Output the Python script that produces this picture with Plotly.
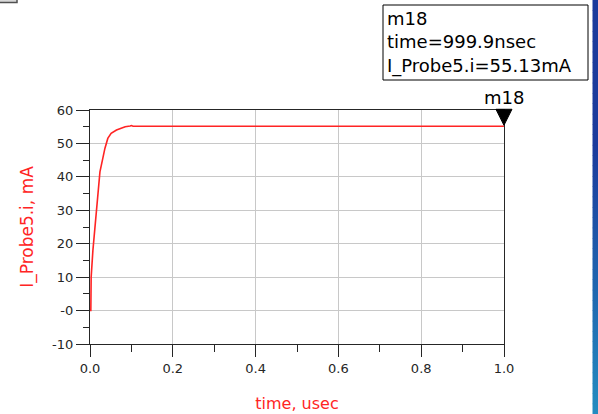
import plotly.graph_objects as go

# ---- data (time in usec, current in mA) ----
time_us = [0.0, 0.0020, 0.0024, 0.0028, 0.0070, 0.0120, 0.0170, 0.0200, 0.0240,
           0.0300, 0.0360, 0.0430, 0.0510, 0.0640, 0.0850, 0.0970, 0.1000,
           0.1040, 0.2000, 0.4000, 0.6000, 0.8000, 0.9999]
current_mA = [0.0, 0.0, 5.0, 10.0, 18.0, 25.0, 30.0, 35.0, 41.5,
              45.0, 48.5, 51.5, 53.0, 54.0, 55.0, 55.2, 55.35,
              55.15, 55.13, 55.13, 55.13, 55.13, 55.13]

x_ticks = [0.0, 0.2, 0.4, 0.6, 0.8, 1.0]
x_ticktext = ["0.0", "0.2", "0.4", "0.6", "0.8", "1.0"]
y_ticks = [-10, 0, 10, 20, 30, 40, 50, 60]
y_ticktext = ["-10", "-0", "10", "20", "30", "40", "50", "60"]

marker_name = "m18"
marker_t = 0.9999
marker_v = 55.13
marker_lines = ["m18", "time=999.9nsec", "I_Probe5.i=55.13mA"]

x_range = [0.0, 1.0]
y_range = [-10, 60]

# ---- layout geometry ----
W, H = 598, 414
L, R, T, B = 90, 94, 110, 70
PW, PH = W - L - R, H - T - B


def px(xpix):
    return (xpix - L) / PW


def py(ypix):
    return (H - B - ypix) / PH


def dx(t):
    return (t - x_range[0]) / (x_range[1] - x_range[0])


def dy(v):
    return (v - y_range[0]) / (y_range[1] - y_range[0])


FONT = "DejaVu Sans, Verdana, sans-serif"
RED = "#ff2424"
INK = "#262626"

fig = go.Figure()
fig.add_trace(go.Scatter(x=time_us, y=current_mA, mode="lines",
                         line=dict(color=RED, width=1.6), showlegend=False,
                         hoverinfo="x+y"))

shapes = []
# blue gradient bar at right edge
n = 40
c_top = (27, 58, 156)
c_bot = (36, 140, 192)
for i in range(n):
    f = i / (n - 1)
    g = max(0.0, (f - 0.35) / 0.65)
    c = tuple(int(c_top[k] + (c_bot[k] - c_top[k]) * g) for k in range(3))
    shapes.append(dict(type="rect", xref="paper", yref="paper",
                       x0=px(592.5), x1=px(598),
                       y0=py(H * (i + 1) / n + 0.5), y1=py(H * i / n),
                       line=dict(width=0), fillcolor="rgb(%d,%d,%d)" % c,
                       layer="above"))
# marker triangle (tip at the data point)
shapes.append(dict(type="path", xref="paper", yref="paper",
                   xsizemode="pixel", ysizemode="pixel",
                   xanchor=dx(marker_t), yanchor=dy(marker_v),
                   path="M-8,17 L8,17 L0,1 Z",
                   fillcolor="black", line=dict(color="black", width=1)))
# marker readout box
shapes.append(dict(type="rect", xref="paper", yref="paper",
                   x0=px(383), x1=px(588), y0=py(80), y1=py(5),
                   line=dict(color="black", width=1), fillcolor="rgba(0,0,0,0)"))
# small box top-left
shapes.append(dict(type="rect", xref="paper", yref="paper",
                   x0=px(-2), x1=px(17), y0=py(2.5), y1=py(-6),
                   line=dict(color="#505050", width=1.5), fillcolor="#d8d8d8"))

annotations = [
    dict(xref="paper", yref="paper", x=px(385), y=py(6), xanchor="left",
         yanchor="top", align="left", showarrow=False,
         text="<br>".join(marker_lines),
         font=dict(family=FONT, size=18, color="black")),
    dict(xref="paper", yref="paper", x=dx(marker_t), y=py(97),
         xanchor="center", yanchor="middle", showarrow=False,
         text=marker_name, font=dict(family=FONT, size=18, color="black")),
]

fig.update_layout(
    width=W, height=H,
    margin=dict(l=L, r=R, t=T, b=B, autoexpand=False),
    paper_bgcolor="white", plot_bgcolor="white",
    font=dict(family=FONT, size=13, color=INK),
    shapes=shapes, annotations=annotations,
    xaxis=dict(range=x_range, tickvals=x_ticks, ticktext=x_ticktext,
               showgrid=True, gridcolor="#c8c8c8", gridwidth=1,
               showline=True, linecolor=INK, linewidth=1.2, mirror=True,
               ticks="outside", ticklen=12, tickcolor=INK, tickwidth=1.2,
               minor=dict(dtick=0.1, ticks="outside", ticklen=7,
                          tickcolor=INK, tickwidth=1.2, showgrid=False),
               zeroline=False, fixedrange=True,
               title=dict(text="time, usec", standoff=23,
                          font=dict(family=FONT, size=16, color=RED))),
    yaxis=dict(range=y_range, tickvals=y_ticks, ticktext=y_ticktext,
               showgrid=True, gridcolor="#c8c8c8", gridwidth=1,
               showline=True, linecolor=INK, linewidth=1.2, mirror=True,
               ticks="outside", ticklen=13, tickcolor=INK, tickwidth=1.2,
               minor=dict(dtick=5, ticks="outside", ticklen=6,
                          tickcolor=INK, tickwidth=1.2, showgrid=False),
               zeroline=False, fixedrange=True,
               title=dict(text="I_Probe5.i, mA", standoff=14,
                          font=dict(family=FONT, size=17, color=RED))),
)

# page styling: no body margin, blue bar also drawn as a CSS page border
fig.write_html("out.html",
               config={"displayModeBar": False, "responsive": False},
               post_script="document.documentElement.style.margin='0';"
                           "document.documentElement.style.overflow='hidden';"
                           "document.body.style.margin='0';"
                           "document.body.style.overflow='hidden';"
                           "var d=document.createElement('div');"
                           "d.style.cssText='position:fixed;top:0;right:0;width:5.5px;"
                           "height:100%;pointer-events:none;"
                           "background:linear-gradient(to bottom,rgb(27,58,156) 0%,"
                           "rgb(27,58,156) 35%,rgb(36,140,192) 100%);';"
                           "document.body.appendChild(d);")
